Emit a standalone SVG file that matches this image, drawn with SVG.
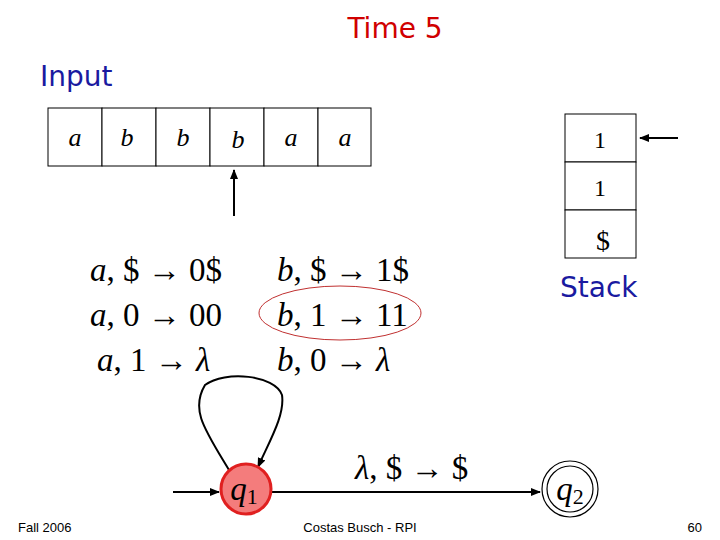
<svg xmlns="http://www.w3.org/2000/svg" width="720" height="540" viewBox="0 0 720 540">
<defs>
<marker id="ah" markerWidth="10" markerHeight="8" refX="9" refY="4" orient="auto" markerUnits="userSpaceOnUse"><path d="M0,0 L10,4 L0,8 Z" fill="#000"/></marker>
</defs>
<style>
.cell{fill:#fff;stroke:#000;stroke-width:1}
.sym{font-family:"Liberation Serif",serif;font-style:italic;font-size:26px;text-anchor:middle}
.m{font-family:"Liberation Serif",serif;font-size:33px}
.it{font-style:italic}
.lbl{font-family:"DejaVu Sans",sans-serif;font-size:28px;fill:#1a1aa0}
.ft{font-family:"Liberation Sans",sans-serif;font-size:13px}
.ln{stroke:#000;stroke-width:2;fill:none}
</style>
<rect width="720" height="540" fill="#fff"/>
<text x="395" y="38" class="lbl" style="fill:#d00000" text-anchor="middle">Time 5</text>
<text x="40" y="86" class="lbl">Input</text>
<text x="560" y="297" class="lbl">Stack</text>
<g id="tape">
<rect class="cell" x="48" y="108" width="54" height="58"/><rect class="cell" x="102" y="108" width="54" height="58"/><rect class="cell" x="156" y="108" width="54" height="58"/><rect class="cell" x="210" y="108" width="54" height="58"/><rect class="cell" x="264" y="108" width="54" height="58"/><rect class="cell" x="318" y="108" width="53" height="58"/>
<text class="sym" x="75" y="146">a</text><text class="sym" x="127" y="146">b</text><text class="sym" x="183" y="146">b</text><text class="sym" x="238" y="148">b</text><text class="sym" x="291" y="146">a</text><text class="sym" x="345" y="146">a</text>
</g>
<g id="stack">
<rect class="cell" x="565" y="114" width="71" height="48"/><rect class="cell" x="565" y="162" width="71" height="48"/><rect class="cell" x="565" y="210" width="71" height="48"/>
<text class="m" x="600" y="148" text-anchor="middle" style="font-size:24px">1</text>
<text class="m" x="600" y="196" text-anchor="middle" style="font-size:24px">1</text>
<text class="m" x="603" y="250" text-anchor="middle" style="font-size:28px">$</text>
</g>
<g id="rules" class="m">
<text x="90" y="281"><tspan class="it">a</tspan>, $ → 0$</text>
<text x="90" y="326"><tspan class="it">a</tspan>, 0 → 00</text>
<text x="97" y="371"><tspan class="it">a</tspan>, 1 → <tspan class="it">λ</tspan></text>
<text x="277" y="281"><tspan class="it">b</tspan>, $ → 1$</text>
<text x="277" y="326"><tspan class="it">b</tspan>, 1 → 11</text>
<text x="277" y="371"><tspan class="it">b</tspan>, 0 → <tspan class="it">λ</tspan></text>
<text x="355" y="479"><tspan class="it">λ</tspan>, $ → $</text>
</g>
<ellipse cx="340" cy="313" rx="81" ry="27" fill="none" stroke="#c03030" stroke-width="1"/>
<g id="connectors">
<line class="ln" x1="234" y1="216" x2="234" y2="170" marker-end="url(#ah)"/>
<line class="ln" x1="678" y1="138" x2="640" y2="138" marker-end="url(#ah)"/>
<line class="ln" x1="173" y1="492" x2="219" y2="492" marker-end="url(#ah)"/>
<line class="ln" x1="271" y1="492" x2="540" y2="492" marker-end="url(#ah)"/>
<path class="ln" d="M229,470 C205,430 190,410 205,385 C225,370 275,375 282,395 C285,415 270,440 258,467" marker-end="url(#ah)"/>
</g>
<g id="q1"><circle cx="246" cy="489" r="25" fill="#f47c7c" stroke="#e02020" stroke-width="3"/>
<text x="244" y="500" class="m" text-anchor="middle"><tspan class="it">q</tspan><tspan font-size="22" dy="4">1</tspan></text></g>
<g id="q2"><circle cx="570" cy="489" r="28" fill="#fff" stroke="#000" stroke-width="1.2"/><circle cx="570" cy="489" r="23" fill="none" stroke="#000" stroke-width="1.2"/>
<text x="570" y="500" class="m" text-anchor="middle"><tspan class="it">q</tspan><tspan font-size="22" dy="4">2</tspan></text></g>
<text x="18" y="532" class="ft">Fall 2006</text>
<text x="360" y="532" class="ft" text-anchor="middle">Costas Busch - RPI</text>
<text x="702" y="532" class="ft" text-anchor="end">60</text>
</svg>
